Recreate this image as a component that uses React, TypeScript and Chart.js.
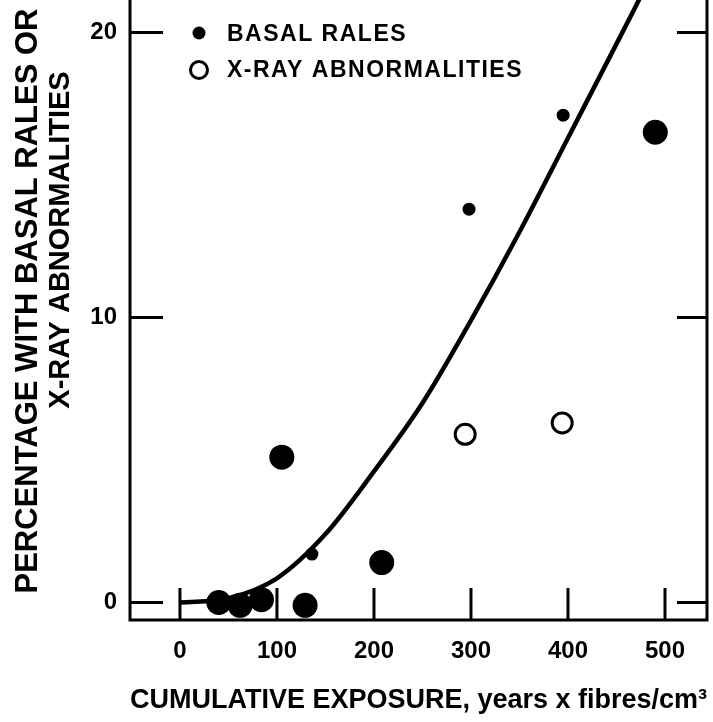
import React, { useEffect, useRef } from "react";
import { Chart, registerables } from "chart.js";

Chart.register(...registerables);

// Basal rales (small filled dots)
const basalX = [136, 298, 395];
const basalY = [1.7, 13.8, 17.1];

// Large filled dots
const largeX = [40, 62, 84, 105, 129, 208, 490];
const largeY = [0, -0.1, 0.1, 5.1, -0.1, 1.4, 16.5];

// X-ray abnormalities (open circles)
const xrayX = [294, 394];
const xrayY = [5.9, 6.3];

// Fitted exposure-response curve
const curveX = [0, 50, 100, 150, 200, 250, 300, 350, 400, 450, 480];
const curveY = [0, 0.15, 0.85, 2.4, 4.6, 7.0, 9.9, 13.0, 16.3, 19.6, 21.6];

const xTicks = [0, 100, 200, 300, 400, 500];
const yTicks = [0, 10, 20];

const legendLabels = ["BASAL RALES", "X-RAY ABNORMALITIES"];
const xTitle = "CUMULATIVE EXPOSURE, years x fibres/cm³";
const yTitle = ["PERCENTAGE WITH BASAL RALES OR", "X-RAY ABNORMALITIES"];

const FONT = '"Liberation Sans", Arial, sans-serif';

const pts = (xs: number[], ys: number[]) => xs.map((x, i) => ({ x, y: ys[i] }));

// Axis frame with inward tick marks
const framePlugin = {
  id: "frame",
  beforeDatasetsDraw(chart: any) {
    const { ctx, chartArea: a, scales } = chart;
    const x = scales.x;
    const y = scales.y;
    ctx.save();
    ctx.strokeStyle = "#000";
    ctx.lineWidth = 3;
    ctx.beginPath();
    ctx.moveTo(a.left, a.top);
    ctx.lineTo(a.left, a.bottom);
    ctx.lineTo(a.right, a.bottom);
    ctx.lineTo(a.right, a.top);
    ctx.stroke();
    ctx.beginPath();
    for (const v of yTicks) {
      const py = y.getPixelForValue(v);
      ctx.moveTo(a.left, py);
      ctx.lineTo(a.left + 33, py);
      ctx.moveTo(a.right, py);
      ctx.lineTo(a.right - 30, py);
    }
    for (const v of xTicks) {
      const px = x.getPixelForValue(v);
      ctx.moveTo(px, a.bottom);
      ctx.lineTo(px, a.bottom - 32);
    }
    ctx.stroke();
    ctx.restore();
  },
  afterDraw(chart: any) {
    const { ctx } = chart;
    ctx.save();
    ctx.fillStyle = "#000";
    ctx.strokeStyle = "#000";

    // legend
    ctx.beginPath();
    ctx.arc(199, 33, 6.5, 0, Math.PI * 2);
    ctx.fill();
    ctx.beginPath();
    ctx.lineWidth = 3;
    ctx.arc(199, 70, 8.5, 0, Math.PI * 2);
    ctx.stroke();
    ctx.font = `bold 23px ${FONT}`;
    (ctx as any).letterSpacing = "1.5px";
    ctx.textAlign = "left";
    ctx.textBaseline = "middle";
    ctx.fillText(legendLabels[0], 227, 35);
    ctx.fillText(legendLabels[1], 227, 71);
    (ctx as any).letterSpacing = "0px";

    // y-axis title, two rotated lines
    ctx.font = `bold 31px ${FONT}`;
    ctx.textAlign = "center";
    ctx.save();
    ctx.translate(28, 301);
    ctx.rotate(-Math.PI / 2);
    ctx.fillText(yTitle[0], 0, 0);
    ctx.restore();
    ctx.font = `bold 29px ${FONT}`;
    ctx.save();
    ctx.translate(61, 240);
    ctx.rotate(-Math.PI / 2);
    ctx.fillText(yTitle[1], 0, 0);
    ctx.restore();

    ctx.restore();
  },
};

export default function App() {
  const ref = useRef<HTMLCanvasElement | null>(null);

  useEffect(() => {
    if (!ref.current) return;
    const chart = new Chart(ref.current, {
      type: "scatter",
      data: {
        datasets: [
          {
            label: legendLabels[0],
            data: pts(basalX, basalY),
            pointRadius: 6.5,
            pointBackgroundColor: "#000",
            pointBorderWidth: 0,
          },
          {
            label: "large",
            data: pts(largeX, largeY),
            pointRadius: 12.5,
            pointBackgroundColor: "#000",
            pointBorderWidth: 0,
          },
          {
            label: legendLabels[1],
            data: pts(xrayX, xrayY),
            pointRadius: 10,
            pointBackgroundColor: "#fff",
            pointBorderColor: "#000",
            pointBorderWidth: 3,
          },
          {
            label: "curve",
            data: pts(curveX, curveY),
            showLine: true,
            cubicInterpolationMode: "monotone",
            borderColor: "#000",
            borderWidth: 4.5,
            pointRadius: 0,
            fill: false,
          } as any,
        ],
      },
      options: {
        responsive: false,
        animation: false,
        devicePixelRatio: 1,
        layout: { autoPadding: false, padding: { top: 0, right: 6, left: 0, bottom: 0 } },
        plugins: {
          legend: { display: false },
          tooltip: { enabled: false },
        },
        scales: {
          x: {
            type: "linear",
            min: -51.5,
            max: 543.3,
            grid: { display: false, drawTicks: false },
            border: { display: false },
            afterBuildTicks: (s: any) => {
              s.ticks = xTicks.map((value) => ({ value }));
            },
            afterFit: (s: any) => {
              s.height = 102;
              s.paddingLeft = 0;
              s.paddingRight = 0;
            },
            ticks: {
              padding: 17,
              color: "#000",
              font: { family: FONT, size: 24, weight: "bold" },
              maxRotation: 0,
              autoSkip: false,
            },
            title: {
              display: true,
              text: xTitle,
              color: "#000",
              font: { family: FONT, size: 27, weight: "bold" },
              padding: { top: 0, bottom: 5 },
            },
          },
          y: {
            type: "linear",
            min: -0.614,
            max: 21.14,
            grid: { display: false, drawTicks: false },
            border: { display: false },
            afterBuildTicks: (s: any) => {
              s.ticks = yTicks.map((value) => ({ value }));
            },
            afterFit: (s: any) => {
              s.width = 130;
              s.paddingTop = 0;
              s.paddingBottom = 0;
            },
            ticks: {
              padding: 13,
              color: "#000",
              font: { family: FONT, size: 24, weight: "bold" },
              autoSkip: false,
            },
          },
        },
      },
      plugins: [framePlugin],
    });
    return () => chart.destroy();
  }, []);

  return (
    <div style={{ position: "absolute", left: 0, top: 0, width: 713, height: 722, background: "#fff" }}>
      <canvas ref={ref} width={713} height={722} style={{ display: "block" }} />
    </div>
  );
}
